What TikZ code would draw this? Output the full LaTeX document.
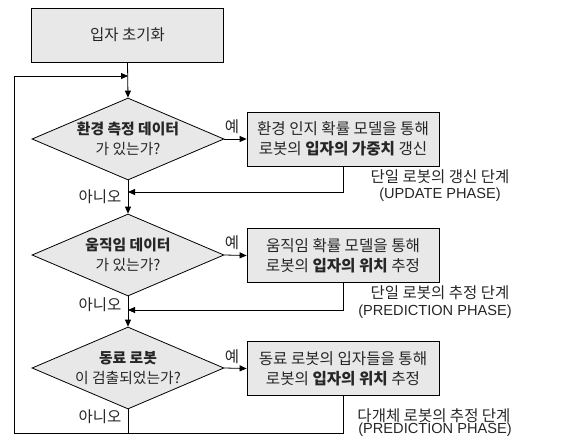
\documentclass[tikz,border=0pt]{standalone}
\usepackage{fontspec}
\setmainfont{Noto Sans CJK KR}
\newfontfamily\latfont{Liberation Sans}
\usetikzlibrary{shapes.geometric,arrows.meta}
\begin{document}
\begin{tikzpicture}[x=1pt,y=-1pt,
  font=\fontsize{15.5}{20}\selectfont,
  every node/.style={text=black!85},
  boxnode/.style={draw,fill=black!9,minimum width=192pt,minimum height=54pt,inner sep=0pt,align=center,line width=0.8pt},
  procnode/.style={boxnode,font=\fontsize{15.6}{20}\selectfont},
  decision/.style={draw,diamond,fill=black!9,minimum width=192pt,minimum height=82pt,shape aspect=2.34,inner sep=0pt,align=center,line width=0.8pt,font=\fontsize{14.8}{20}\selectfont},
  conn/.style={line width=0.8pt},
  arr/.style={conn,-{Triangle[length=7pt,width=6pt]}},
  lbl/.style={inner sep=0pt},
  phasekr/.style={inner sep=0pt,font=\fontsize{15.5}{20}\selectfont},
  phaseen/.style={inner sep=0pt,font=\latfont\fontsize{14.6}{18}\selectfont}]
\useasboundingbox (0,0) rectangle (563,437);
\node[boxnode] (init) at (127.5,35) {입자 초기화};
\node[decision] (d1) at (128,139) {\textbf{환경 측정 데이터}\\가 있는가?};
\node[decision] (d2) at (128,255) {\textbf{움직임 데이터}\\가 있는가?};
\node[decision] (d3) at (128,368) {\textbf{동료 로봇}\\이 검출되었는가?};
\node[procnode] (b1) at (343,139) {환경 인지 확률 모델을 통해\\로봇의 \textbf{입자의 가중치} 갱신};
\node[procnode] (b2) at (343,255.5) {움직임 확률 모델을 통해\\로봇의 \textbf{입자의 위치} 추정};
\node[procnode] (b3) at (343,368.5) {동료 로봇의 입자들을 통해\\로봇의 \textbf{입자의 위치} 추정};
\coordinate (m1) at (128,192);
\coordinate (m2) at (128,310);
\coordinate (bl) at (14,433);
\coordinate (tl) at (14,76);
\coordinate (top) at (128,76);
\coordinate (bm) at (128,433);
\draw[arr] (init.south) -- (d1.north);
\draw[arr] (d1.east) -- (b1.west);
\draw[arr] (d2.east) -- (b2.west);
\draw[arr] (d3.east) -- (b3.west);
\draw[arr] (d1.south) -- (d2.north);
\draw[arr] (d2.south) -- (d3.north);
\draw[arr] (b1.south) |- (m1);
\draw[arr] (b2.south) |- (m2);
\draw[conn] (d3.south) -- (bm);
\draw[arr] (b3.south) |- (bl) -- (tl) -- (top);
\node[lbl] (y1) at (232,127) {예};
\node[lbl] (y2) at (232,243) {예};
\node[lbl] (y3) at (232,357) {예};
\node[lbl] (n1) at (100,197) {아니오};
\node[lbl] (n2) at (100,305) {아니오};
\node[lbl] (n3) at (100,417) {아니오};
\node[phasekr] (p1a) at (440,177) {단일 로봇의 갱신 단계};
\node[phaseen] (p1b) at (440,195) {(UPDATE PHASE)};
\node[phasekr] (p2a) at (440,293) {단일 로봇의 추정 단계};
\node[phaseen] (p2b) at (435,312) {(PREDICTION PHASE)};
\node[phasekr] (p3a) at (434,416) {다개체 로봇의 추정 단계};
\node[phaseen] (p3b) at (435,430) {(PREDICTION PHASE)};
\end{tikzpicture}
\end{document}
